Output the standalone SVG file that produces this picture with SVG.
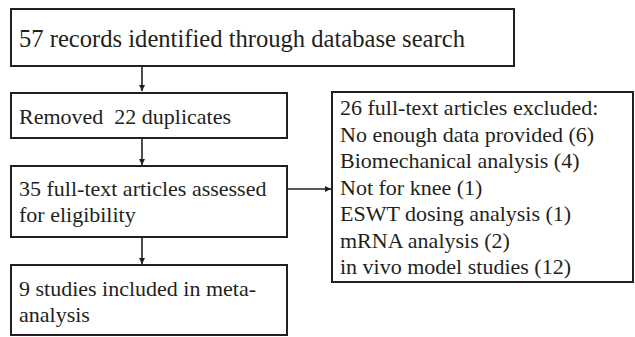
<svg xmlns="http://www.w3.org/2000/svg" width="635" height="337" viewBox="0 0 635 337">
<style>
.box{fill:#fff;stroke:#231f20;stroke-width:2}
.t{font-family:"Liberation Serif","Times New Roman",serif;font-size:22px;fill:#231f20;white-space:pre}
.t1{font-size:24.6px}
.c{stroke:#231f20;stroke-width:1.6;fill:none}
</style>
<defs>
<marker id="ah" viewBox="0 0 10 10" refX="10" refY="5" markerWidth="6" markerHeight="6" markerUnits="userSpaceOnUse" orient="auto">
<path d="M0,0L10,5L0,10z" fill="#231f20"/>
</marker>
</defs>
<rect width="635" height="337" fill="#fff"/>
<g id="connectors">
<line class="c" x1="142" y1="67" x2="142" y2="91" marker-end="url(#ah)"/>
<line class="c" x1="142" y1="139" x2="142" y2="165" marker-end="url(#ah)"/>
<line class="c" x1="142" y1="238" x2="142" y2="264" marker-end="url(#ah)"/>
<line class="c" x1="288" y1="189" x2="331" y2="189" marker-end="url(#ah)"/>
</g>
<g id="n1">
<rect class="box" x="11" y="9" width="503" height="57"/>
<text class="t t1" x="19" y="47">57 records identified through database search</text>
</g>
<g id="n2">
<rect class="box" x="11" y="93" width="276" height="45"/>
<text class="t" x="19" y="124" xml:space="preserve">Removed  22 duplicates</text>
</g>
<g id="n3">
<rect class="box" x="11" y="166" width="276" height="71"/>
<text class="t" x="19" y="196">35 full-text articles assessed</text>
<text class="t" x="19" y="222">for eligibility</text>
</g>
<g id="n4">
<rect class="box" x="11" y="265" width="276" height="70"/>
<text class="t" x="19" y="296">9 studies included in meta-</text>
<text class="t" x="19" y="322">analysis</text>
</g>
<g id="n5">
<rect class="box" x="332" y="92" width="301" height="190"/>
<text class="t" x="340" y="115">26 full-text articles excluded:</text>
<text class="t" x="340" y="141.5">No enough data provided (6)</text>
<text class="t" x="340" y="168">Biomechanical analysis (4)</text>
<text class="t" x="340" y="194.5">Not for knee (1)</text>
<text class="t" x="340" y="221">ESWT dosing analysis (1)</text>
<text class="t" x="340" y="247.5">mRNA analysis (2)</text>
<text class="t" x="340" y="274">in vivo model studies (12)</text>
</g>
</svg>
